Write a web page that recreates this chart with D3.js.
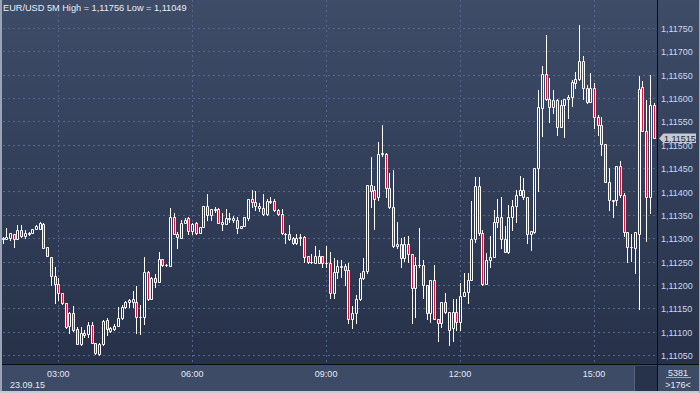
<!DOCTYPE html>
<html><head><meta charset="utf-8">
<script src="https://cdn.jsdelivr.net/npm/d3@7"></script>
<style>html,body{margin:0;padding:0;background:#2b3650;}svg{display:block;}</style>
</head><body><svg id="c" width="700" height="393"></svg>
<script>
const symbolLabel = "EUR/USD 5M";
const dateLabel = "23.09.15";
const stepMinutes = 5;
const barsTotal = "5381";
const barsVisible = ">176<";
const lastPrice = 1.11515;
const priceTicks = [1.11050,1.11100,1.11150,1.11200,1.11250,1.11300,1.11350,1.11400,1.11450,1.11500,1.11550,1.11600,1.11650,1.11700,1.11750];
const timeTicks = ["03:00","06:00","09:00","12:00","15:00"];

const open = [
1.11298,1.11298,1.11300,1.11309,1.11298,1.11318,1.11305,1.11310,1.11311,1.11320,
1.11320,1.11330,1.11281,1.11260,1.11219,1.11202,1.11183,1.11161,1.11112,1.11140,
1.11106,1.11073,1.11093,1.11095,1.11114,1.11076,1.11052,1.11073,1.11125,1.11101,
1.11106,1.11112,1.11129,1.11153,1.11163,1.11163,1.11163,1.11131,1.11131,1.11228,
1.11170,1.11215,1.11206,1.11255,1.11243,1.11240,1.11345,1.11303,1.11300,1.11333,
1.11343,1.11316,1.11333,1.11312,1.11323,1.11369,1.11350,1.11362,1.11362,1.11330,
1.11330,1.11343,1.11340,1.11340,1.11321,1.11327,1.11343,1.11383,1.11369,1.11364,
1.11364,1.11351,1.11378,1.11380,1.11360,1.11352,1.11310,1.11308,1.11300,1.11290,
1.11300,1.11303,1.11262,1.11250,1.11248,1.11248,1.11261,1.11248,1.11248,1.11183,
1.11228,1.11239,1.11240,1.11233,1.11128,1.11139,1.11169,1.11214,1.11230,1.11414,
1.11403,1.11389,1.11480,1.11480,1.11407,1.11367,1.11283,1.11288,1.11257,1.11288,
1.11266,1.11193,1.11243,1.11243,1.11200,1.11139,1.11210,1.11128,1.11119,1.11164,
1.11104,1.11108,1.11143,1.11121,1.11176,1.11185,1.11210,1.11298,1.11412,1.11312,
1.11203,1.11253,1.11260,1.11335,1.11346,1.11298,1.11271,1.11346,1.11369,1.11392,
1.11403,1.11388,1.11309,1.11314,1.11450,1.11578,1.11652,1.11599,1.11580,1.11596,
1.11539,1.11585,1.11597,1.11602,1.11633,1.11640,1.11680,1.11621,1.11592,1.11621,
1.11560,1.11542,1.11502,1.11421,1.11380,1.11382,1.11455,1.11392,1.11314,1.11282,
1.11280,1.11310,1.11624,1.11530,1.11388,1.11585];

const high = [
1.11303,1.11322,1.11311,1.11309,1.11328,1.11328,1.11318,1.11313,1.11320,1.11328,
1.11335,1.11333,1.11281,1.11260,1.11238,1.11215,1.11183,1.11161,1.11142,1.11155,
1.11110,1.11110,1.11104,1.11121,1.11121,1.11076,1.11076,1.11125,1.11129,1.11110,
1.11116,1.11153,1.11157,1.11166,1.11170,1.11187,1.11198,1.11157,1.11260,1.11230,
1.11217,1.11223,1.11270,1.11255,1.11245,1.11364,1.11355,1.11314,1.11339,1.11344,
1.11346,1.11333,1.11335,1.11323,1.11369,1.11395,1.11362,1.11366,1.11364,1.11355,
1.11362,1.11353,1.11348,1.11346,1.11327,1.11345,1.11385,1.11403,1.11402,1.11376,
1.11395,1.11383,1.11389,1.11383,1.11362,1.11362,1.11312,1.11328,1.11303,1.11310,
1.11310,1.11305,1.11262,1.11266,1.11283,1.11275,1.11261,1.11283,1.11271,1.11257,
1.11253,1.11253,1.11244,1.11246,1.11155,1.11178,1.11225,1.11257,1.11414,1.11474,
1.11412,1.11507,1.11542,1.11482,1.11439,1.11447,1.11335,1.11300,1.11303,1.11305,
1.11266,1.11260,1.11322,1.11253,1.11200,1.11210,1.11243,1.11128,1.11164,1.11183,
1.11143,1.11169,1.11169,1.11205,1.11225,1.11226,1.11380,1.11432,1.11431,1.11318,
1.11268,1.11305,1.11360,1.11385,1.11389,1.11326,1.11371,1.11382,1.11403,1.11433,
1.11428,1.11388,1.11316,1.11451,1.11617,1.11669,1.11735,1.11642,1.11617,1.11599,
1.11596,1.11597,1.11607,1.11639,1.11656,1.11756,1.11690,1.11628,1.11653,1.11632,
1.11564,1.11559,1.11502,1.11450,1.11382,1.11455,1.11466,1.11396,1.11314,1.11310,
1.11314,1.11647,1.11637,1.11596,1.11649,1.11590];

const low = [
1.11290,1.11298,1.11296,1.11281,1.11298,1.11303,1.11300,1.11307,1.11311,1.11320,
1.11320,1.11279,1.11262,1.11200,1.11161,1.11168,1.11159,1.11108,1.11097,1.11101,
1.11073,1.11071,1.11088,1.11088,1.11076,1.11052,1.11049,1.11071,1.11093,1.11099,
1.11104,1.11112,1.11127,1.11151,1.11153,1.11153,1.11097,1.11095,1.11116,1.11168,
1.11170,1.11195,1.11206,1.11240,1.11240,1.11240,1.11310,1.11278,1.11300,1.11332,
1.11310,1.11310,1.11310,1.11311,1.11323,1.11339,1.11339,1.11357,1.11332,1.11318,
1.11330,1.11335,1.11335,1.11312,1.11321,1.11327,1.11339,1.11367,1.11360,1.11359,
1.11350,1.11350,1.11375,1.11359,1.11350,1.11310,1.11289,1.11296,1.11288,1.11288,
1.11285,1.11250,1.11246,1.11248,1.11246,1.11248,1.11239,1.11239,1.11173,1.11171,
1.11214,1.11218,1.11200,1.11119,1.11108,1.11119,1.11168,1.11212,1.11226,1.11366,
1.11319,1.11382,1.11476,1.11389,1.11364,1.11282,1.11278,1.11238,1.11252,1.11250,
1.11119,1.11132,1.11239,1.11171,1.11128,1.11121,1.11128,1.11081,1.11110,1.11140,
1.11071,1.11081,1.11104,1.11104,1.11176,1.11162,1.11210,1.11292,1.11307,1.11200,
1.11202,1.11239,1.11259,1.11323,1.11278,1.11271,1.11269,1.11318,1.11335,1.11392,
1.11385,1.11289,1.11275,1.11312,1.11400,1.11519,1.11596,1.11549,1.11569,1.11521,
1.11539,1.11517,1.11557,1.11582,1.11621,1.11639,1.11597,1.11589,1.11592,1.11535,
1.11521,1.11478,1.11421,1.11360,1.11345,1.11371,1.11389,1.11305,1.11250,1.11252,
1.11225,1.11148,1.11530,1.11295,1.11353,1.11514];

const close = [
1.11300,1.11303,1.11311,1.11298,1.11318,1.11305,1.11311,1.11311,1.11320,1.11326,
1.11333,1.11279,1.11262,1.11219,1.11202,1.11183,1.11161,1.11110,1.11140,1.11104,
1.11073,1.11097,1.11097,1.11114,1.11076,1.11054,1.11073,1.11123,1.11106,1.11108,
1.11112,1.11129,1.11153,1.11163,1.11168,1.11170,1.11131,1.11132,1.11228,1.11170,
1.11215,1.11206,1.11255,1.11243,1.11242,1.11345,1.11310,1.11310,1.11333,1.11340,
1.11316,1.11330,1.11312,1.11323,1.11369,1.11350,1.11362,1.11360,1.11333,1.11334,
1.11343,1.11342,1.11344,1.11321,1.11327,1.11345,1.11383,1.11378,1.11378,1.11369,
1.11351,1.11380,1.11380,1.11360,1.11352,1.11312,1.11310,1.11298,1.11290,1.11300,
1.11302,1.11260,1.11250,1.11250,1.11261,1.11261,1.11246,1.11248,1.11183,1.11228,
1.11240,1.11240,1.11233,1.11128,1.11139,1.11169,1.11214,1.11230,1.11414,1.11402,
1.11385,1.11480,1.11482,1.11407,1.11366,1.11283,1.11288,1.11257,1.11288,1.11266,
1.11193,1.11243,1.11243,1.11200,1.11139,1.11210,1.11128,1.11119,1.11164,1.11143,
1.11143,1.11142,1.11121,1.11176,1.11185,1.11210,1.11298,1.11412,1.11312,1.11203,
1.11253,1.11260,1.11335,1.11346,1.11298,1.11271,1.11346,1.11369,1.11392,1.11403,
1.11388,1.11309,1.11316,1.11451,1.11580,1.11652,1.11599,1.11580,1.11596,1.11539,
1.11585,1.11597,1.11602,1.11635,1.11640,1.11680,1.11621,1.11592,1.11621,1.11560,
1.11542,1.11502,1.11421,1.11382,1.11382,1.11455,1.11392,1.11314,1.11282,1.11282,
1.11314,1.11619,1.11530,1.11388,1.11585,1.11515];

const W = 700, H = 393;
const plotRight = 657, plotBottom = 364;
const FONT = "'Liberation Sans', Arial, sans-serif";
const svg = d3.select("#c");
const defs = svg.append("defs");
const grad = defs.append("linearGradient").attr("id","bg")
  .attr("gradientUnits","userSpaceOnUse").attr("x1",0).attr("y1",0).attr("x2",0).attr("y2",H);
grad.append("stop").attr("offset","0").attr("stop-color","#3e4c68");
grad.append("stop").attr("offset","1").attr("stop-color","#252f47");
defs.append("clipPath").attr("id","plotclip").append("rect")
  .attr("x",2).attr("y",0).attr("width",plotRight-2).attr("height",plotBottom);

svg.append("rect").attr("width",W).attr("height",H).attr("fill","url(#bg)");

const n = open.length;
const t0 = new Date(2015, 8, 23, 1, 45);
const times = d3.range(n).map(i => d3.timeMinute.offset(t0, i*stepMinutes));
const x = d3.scaleTime().domain([times[0], times[n-1]]).range([2.5, 653.5]);
const y = d3.scaleLinear().domain([1.1105, 1.1175]).range([355, 28]);
const parseTick = s => { const [h,m] = s.split(":").map(Number); return new Date(2015,8,23,h,m); };
const fmtPrice = p => d3.format(".5f")(p).replace(".", ",");

// grid
const grid = svg.append("g").attr("stroke","#56668a").attr("stroke-width",1).attr("stroke-dasharray","2,3");
grid.selectAll("line.h").data(priceTicks).join("line").attr("class","h")
  .attr("x1",3).attr("x2",plotRight)
  .attr("y1",d=>Math.round(y(d))+0.5).attr("y2",d=>Math.round(y(d))+0.5);
grid.selectAll("line.v").data(timeTicks).join("line").attr("class","v")
  .attr("y1",0).attr("y2",plotBottom)
  .attr("x1",d=>Math.round(x(parseTick(d)))+0.5).attr("x2",d=>Math.round(x(parseTick(d)))+0.5);

// candles
const cg = svg.append("g").attr("clip-path","url(#plotclip)");
const idx = d3.range(n);
cg.selectAll("line.w").data(idx).join("line").attr("class","w")
  .attr("x1",i=>Math.round(x(times[i]))+0.5).attr("x2",i=>Math.round(x(times[i]))+0.5)
  .attr("y1",i=>Math.round(y(high[i]))).attr("y2",i=>Math.round(y(low[i]))+1)
  .attr("stroke","#ffffff").attr("stroke-width",1);
cg.selectAll("path.b").data(idx).join("path").attr("class","b")
  .attr("d", i => {
    const cx = Math.round(x(times[i]));
    const yt = Math.round(y(Math.max(open[i],close[i]))) + 0.5;
    const yb = Math.round(y(Math.min(open[i],close[i]))) + 0.5;
    const x0 = cx - 0.5, x1 = cx + 1.5;
    return `M${x0},${yt}H${x1}V${yb}H${x0}Z`;
  })
  .attr("fill", i => close[i] < open[i] ? "#dc143c" : "url(#bg)")
  .attr("stroke","#ffffff").attr("stroke-width",1);

// bottom bar
svg.append("rect").attr("x",0).attr("y",plotBottom).attr("width",W).attr("height",H-plotBottom).attr("fill","#3d4b67");
svg.append("rect").attr("x",635).attr("y",366).attr("width",22).attr("height",25).attr("fill","#27324b");
svg.append("line").attr("x1",634.5).attr("x2",634.5).attr("y1",366).attr("y2",391).attr("stroke","#55627c");

// separators
svg.append("line").attr("x1",0).attr("x2",W).attr("y1",plotBottom+0.5).attr("y2",plotBottom+0.5).attr("stroke","#0b0e16");
svg.append("line").attr("x1",plotRight+0.5).attr("x2",plotRight+0.5).attr("y1",0).attr("y2",H).attr("stroke","#0b0e16");

// price labels
svg.append("g").selectAll("text").data(priceTicks).join("text")
  .attr("x",661).attr("y",d=>y(d)+4)
  .attr("font-family",FONT).attr("font-size","9px").attr("fill","#c9d8f0")
  .text(fmtPrice);

// last price marker
const ly = Math.round(y(lastPrice));
svg.append("path").attr("d",`M659,${ly+0.5}L663.5,${ly-4.5}H696V${ly+5}H663.5Z`)
  .attr("fill","#c4c9d2");
svg.append("text").attr("x",664).attr("y",ly+4).attr("font-family",FONT).attr("font-size","9px")
  .attr("fill","#1c2536").text(fmtPrice(lastPrice));

// time labels
svg.append("g").selectAll("text").data(timeTicks).join("text")
  .attr("x",d=>x(parseTick(d))).attr("y",376.5).attr("text-anchor","middle")
  .attr("font-family",FONT).attr("font-size","9px").attr("fill","#e2e9f4").text(d=>d);
svg.append("text").attr("x",10).attr("y",387.5).attr("font-family",FONT).attr("font-size","9px")
  .attr("fill","#e2e9f4").text(dateLabel);

// bars counter
svg.append("text").attr("x",678).attr("y",375.5).attr("text-anchor","middle").attr("font-family",FONT)
  .attr("font-size","9px").attr("fill","#e2e9f4").text(barsTotal);
svg.append("line").attr("x1",666).attr("x2",691).attr("y1",377.5).attr("y2",377.5).attr("stroke","#9aa8c0");
svg.append("text").attr("x",678).attr("y",388).attr("text-anchor","middle").attr("font-family",FONT)
  .attr("font-size","9px").attr("fill","#e2e9f4").text(barsVisible);

// title
const hi = d3.max(high), lo = d3.min(low);
svg.append("text").attr("x",3).attr("y",11).attr("font-family",FONT).attr("font-size","9.2px")
  .attr("fill","#e8eef8")
  .text(`${symbolLabel} High = ${fmtPrice(hi)} Low = ${fmtPrice(lo)}`);

// frame
svg.append("rect").attr("x",0).attr("y",0).attr("width",2).attr("height",H).attr("fill","#9aa4b6");
svg.append("rect").attr("x",0).attr("y",391).attr("width",W).attr("height",2).attr("fill","#c2cad6");
svg.append("rect").attr("x",699).attr("y",0).attr("width",1).attr("height",H).attr("fill","#9aa4b6");
</script></body></html>
